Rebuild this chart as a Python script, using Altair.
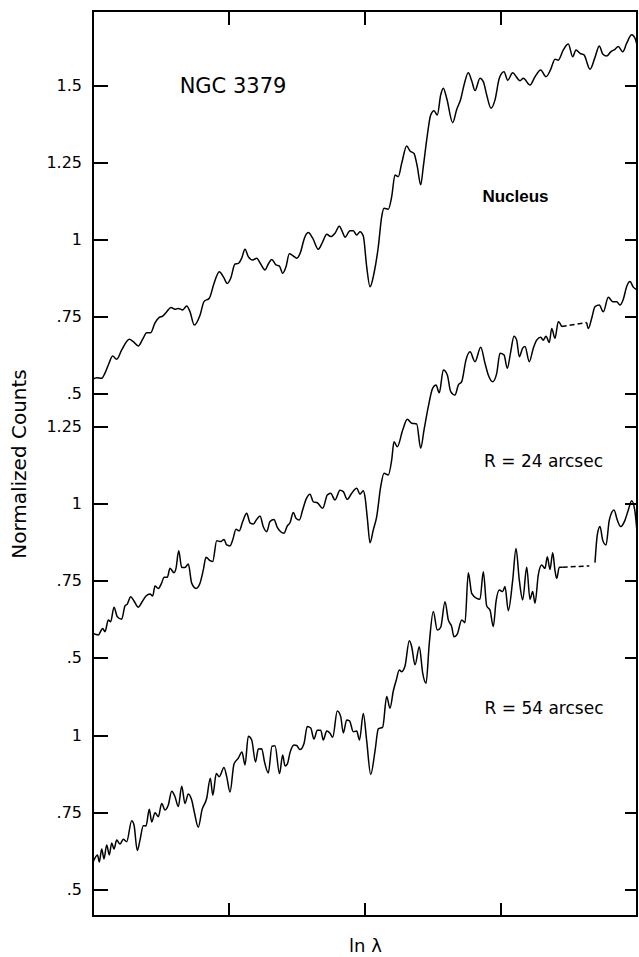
import altair as alt
import pandas as pd

# ---- spectra (x in channel units across the frame, v = normalized counts) ----
NUC_X = [0, 3.7, 8.7, 12, 15.3, 19.7, 23.7, 28.7, 36.3, 40.3, 45.3, 49.7, 53.7, 57.7, 62, 66.3, 69.7, 73.7, 78, 82,
         85.3, 89.7, 93.7, 97, 101.3, 107, 111, 116.3, 121, 126.3, 130.3, 134.3, 137.7, 142, 145.3, 148.7, 152, 155.3,
         159.7, 163.7, 167.7, 172, 175.3, 178.7, 183, 186.3, 189.7, 193, 196.3, 200.3, 203.7, 207.7, 211, 215.3, 219.7,
         225.3, 229.7, 233.7, 237.7, 242, 246.3, 249.7, 252, 257, 260.3, 263.7, 267, 270.3, 273.7, 277, 281, 285.3,
         288.7, 291, 295.3, 298.7, 302, 305.3, 308.7, 313.7, 317, 321, 324.3, 327.7, 330.3, 333.7, 337.7, 341, 344.3,
         347.7, 350.3, 353.7, 359.7, 363.7, 367.7, 371, 375.3, 378.7, 382, 387, 390.3, 393.7, 398, 402, 406.3, 411,
         414.7, 419.7, 423.7, 427, 430.3, 437, 442, 447.7, 453, 457.7, 462, 465.3, 470.3, 475.3, 479.7, 483, 487, 491,
         497, 502, 506.3, 509.7, 513.7, 517.7, 522, 525.3, 529.7, 533.7, 538.7, 542, 544]
NUC_V = [0.548, 0.553, 0.551, 0.568, 0.594, 0.623, 0.613, 0.643, 0.678, 0.670, 0.656, 0.678, 0.699, 0.699, 0.731,
         0.749, 0.753, 0.767, 0.781, 0.775, 0.778, 0.773, 0.786, 0.767, 0.724, 0.756, 0.800, 0.811, 0.859, 0.897,
         0.881, 0.859, 0.876, 0.922, 0.924, 0.941, 0.970, 0.946, 0.935, 0.941, 0.922, 0.903, 0.922, 0.937, 0.919,
         0.916, 0.892, 0.913, 0.955, 0.948, 0.941, 0.962, 1.002, 1.024, 1.006, 0.970, 0.994, 1.019, 1.011, 1.022,
         1.045, 1.024, 1.009, 1.030, 1.030, 1.016, 1.027, 1.013, 0.913, 0.848, 0.892, 0.978, 1.076, 1.103, 1.100,
         1.141, 1.211, 1.206, 1.249, 1.305, 1.289, 1.281, 1.238, 1.179, 1.238, 1.325, 1.406, 1.420, 1.406, 1.471,
         1.493, 1.460, 1.381, 1.424, 1.457, 1.503, 1.543, 1.517, 1.485, 1.525, 1.514, 1.471, 1.428, 1.455, 1.525,
         1.546, 1.519, 1.543, 1.528, 1.517, 1.525, 1.503, 1.530, 1.552, 1.530, 1.554, 1.587, 1.584, 1.617, 1.636,
         1.595, 1.617, 1.606, 1.601, 1.554, 1.593, 1.630, 1.604, 1.597, 1.611, 1.619, 1.628, 1.611, 1.639, 1.666,
         1.655, 1.633]

R24A_X = [0, 5.3, 9.7, 12, 15.3, 17.7, 21, 24.3, 28.7, 32, 34.3, 37.7, 41, 45.3, 48.7, 53, 57, 59.7, 62, 65.3, 68.7,
          71, 74.3, 77, 81, 83, 85.7, 88.7, 92, 95.3, 98.7, 103, 107, 110.3, 113, 117, 119.7, 123.7, 127.7, 131,
          133.7, 137, 139.7, 143, 146.3, 149.7, 153.7, 157, 160.3, 163.7, 167, 170.3, 173.7, 177, 181, 184.3, 187.7,
          191, 194.3, 197, 200.3, 203, 206.3, 209.7, 213, 217, 220.3, 224.3, 229.7, 234.3, 237.7, 242, 247, 250.3,
          254.3, 258.7, 263.7, 267, 270.3, 272, 274.5, 277, 280.3, 283.7, 287.7, 291, 295.3, 298.7, 301, 304.3,
          309.7, 314.3, 318.7, 323.7, 327.7, 331, 335.3, 339.7, 343, 346.3, 350.3, 354.3, 357.7, 362, 365.3, 368.7,
          373, 377, 382, 387.7, 392, 395.3, 399.7, 403.7, 407, 411, 414.3, 417.7, 421, 423.7, 426.3, 429.7, 432,
          436.3, 440.3, 443.7, 447.7, 450.3, 453, 456.3, 458.7, 462, 465.3, 468.7]
R24A_V = [0.580, 0.575, 0.596, 0.585, 0.623, 0.618, 0.665, 0.634, 0.626, 0.669, 0.675, 0.699, 0.685, 0.665, 0.680,
          0.701, 0.708, 0.701, 0.734, 0.726, 0.744, 0.762, 0.762, 0.791, 0.777, 0.791, 0.848, 0.794, 0.794, 0.805,
          0.743, 0.726, 0.743, 0.786, 0.827, 0.816, 0.813, 0.881, 0.878, 0.885, 0.867, 0.864, 0.883, 0.918, 0.913,
          0.943, 0.970, 0.939, 0.935, 0.950, 0.961, 0.926, 0.910, 0.943, 0.950, 0.924, 0.910, 0.905, 0.929, 0.939,
          0.972, 0.954, 0.948, 0.981, 1.015, 1.032, 1.007, 1.004, 0.986, 1.029, 1.035, 1.013, 1.045, 1.040, 1.015,
          1.035, 1.051, 1.032, 1.043, 1.023, 0.948, 0.874, 0.916, 0.959, 1.056, 1.100, 1.094, 1.143, 1.202, 1.186,
          1.240, 1.275, 1.262, 1.260, 1.181, 1.240, 1.316, 1.376, 1.386, 1.361, 1.435, 1.419, 1.365, 1.354, 1.386,
          1.397, 1.468, 1.494, 1.462, 1.509, 1.457, 1.419, 1.397, 1.424, 1.489, 1.484, 1.441, 1.494, 1.545, 1.532,
          1.478, 1.506, 1.511, 1.462, 1.506, 1.532, 1.541, 1.532, 1.545, 1.524, 1.570, 1.538, 1.592, 1.576]
R24D_X = [468.7, 493.7]
R24D_V = [1.576, 1.589]
R24B_X = [493.7, 495.3, 498.7, 502, 506.3, 510.3, 515.3, 519.7, 523.7, 527, 530.3, 533.7, 537, 540.3, 544]
R24B_V = [1.589, 1.570, 1.603, 1.641, 1.646, 1.624, 1.671, 1.657, 1.657, 1.646, 1.665, 1.706, 1.722, 1.704, 1.695]

R54A_X = [0, 4.5, 6.3, 8.7, 11, 13.7, 16.3, 18.7, 21, 23.7, 27, 30.3, 33.7, 38.7, 41, 44.3, 47, 50.3, 53, 56.3, 58.7,
          62, 65.3, 68.7, 72, 75.3, 78.7, 82, 85.3, 88.7, 92, 95.3, 98.7, 101.5, 105.3, 109, 113.7, 117.3, 119.8,
          123.3, 126.3, 131, 133.7, 137, 141, 145.3, 149, 152, 155.3, 158.7, 162.5, 165.3, 168.7, 171.5, 175.3, 179,
          182, 186.5, 189.7, 192, 194.3, 197, 201, 203.7, 207, 211, 214.3, 217.7, 221, 224.3, 227.7, 230.3, 233.7,
          237, 239.7, 244.3, 247.7, 250.3, 253.7, 256.5, 260.3, 263.7, 266.5, 270.3, 273.7, 277.7, 282, 285.3,
          289.7, 293.7, 297, 300.3, 303.3, 306.3, 308.7, 312, 316.3, 318.7, 322, 326.3, 329.7, 333, 336.3, 340.3,
          344.3, 347.7, 352, 355.3, 358.7, 361, 364.3, 368.7, 372, 375.3, 378.7, 383.7, 387, 390.3, 393.7, 397,
          400.3, 403, 406.3, 409.7, 412, 415.3, 419.7, 423, 426.3, 429.7, 433.7, 437, 439.7, 442, 445.3, 448.7, 452,
          454.3, 457, 459.7, 462, 463.7, 466.3, 469.7]
R54A_V = [0.590, 0.614, 0.591, 0.633, 0.601, 0.646, 0.614, 0.653, 0.633, 0.662, 0.649, 0.665, 0.657, 0.725, 0.711,
          0.628, 0.662, 0.709, 0.708, 0.762, 0.721, 0.751, 0.738, 0.781, 0.760, 0.776, 0.821, 0.803, 0.771, 0.837,
          0.781, 0.812, 0.792, 0.750, 0.704, 0.760, 0.798, 0.863, 0.808, 0.878, 0.868, 0.898, 0.868, 0.818, 0.909,
          0.928, 0.948, 0.906, 0.999, 0.987, 0.916, 0.958, 0.959, 0.916, 0.880, 0.967, 0.968, 0.878, 0.938, 0.903,
          0.909, 0.946, 0.971, 0.969, 0.956, 0.976, 1.031, 1.026, 0.990, 1.019, 1.019, 0.987, 1.016, 1.009, 0.996,
          1.081, 1.063, 1.010, 1.052, 1.049, 1.014, 1.016, 0.987, 1.073, 0.984, 0.875, 0.951, 1.023, 1.029, 1.128,
          1.090, 1.146, 1.182, 1.214, 1.209, 1.227, 1.309, 1.290, 1.231, 1.290, 1.204, 1.171, 1.301, 1.404, 1.344,
          1.353, 1.436, 1.377, 1.355, 1.322, 1.331, 1.377, 1.368, 1.530, 1.463, 1.447, 1.444, 1.533, 1.422, 1.409,
          1.355, 1.436, 1.474, 1.469, 1.485, 1.407, 1.506, 1.609, 1.506, 1.442, 1.548, 1.444, 1.469, 1.431, 1.523,
          1.555, 1.544, 1.582, 1.541, 1.595, 1.537, 1.512, 1.548, 1.548]
R54D_X = [469.7, 496.3]
R54D_V = [1.548, 1.552]
R54B_X = [502, 504.3, 507, 509.7, 513, 516.3, 521, 524.3, 527.7, 532, 535.3, 538.7, 542, 544]
R54B_V = [1.563, 1.653, 1.680, 1.636, 1.620, 1.701, 1.734, 1.701, 1.680, 1.701, 1.734, 1.764, 1.728, 1.663]

# vertical offsets of the stacked spectra (in normalized-count units)
OFFSETS = {"nucleus": 0.0, "r24": 0.8571, "r54": 1.6104}

# y tick values and labels of each stacked panel
TICKS_NUC = [0.5, 0.75, 1.0, 1.25, 1.5]
TICKS_R24 = [0.5, 0.75, 1.0, 1.25]
TICKS_R54 = [0.5, 0.75, 1.0]
LABELS = {0.5: ".5", 0.75: ".75", 1.0: "1", 1.25: "1.25", 1.5: "1.5"}
X_TICKS = [136, 272, 408]

# annotations
ANNOT = [
    ("NGC 3379", "nucleus", 140, 1.497, "title"),
    ("Nucleus", "nucleus", 422.5, 1.140, "bold"),
    ("R = 24 arcsec", "r24", 450.5, 1.136, "plain"),
    ("R = 54 arcsec", "r54", 451, 1.088, "plain"),
]

X_DOMAIN = [0, 544]
Y_DOMAIN = [-1.1948, 1.7435]

# ---- build tables ----
rows = []


def add(name, xs, vs, seg, style):
    assert len(xs) == len(vs), (name, seg, len(xs), len(vs))
    for x, v in zip(xs, vs):
        rows.append(dict(spectrum=name, seg=f"{name}-{seg}", style=style, x=x, v=v))


add("nucleus", NUC_X, NUC_V, "a", "solid")
add("r24", R24A_X, R24A_V, "a", "solid")
add("r24", R24D_X, R24D_V, "d", "dash")
add("r24", R24B_X, R24B_V, "b", "solid")
add("r54", R54A_X, R54A_V, "a", "solid")
add("r54", R54D_X, R54D_V, "d", "dash")
add("r54", R54B_X, R54B_V, "b", "solid")
lines = pd.DataFrame(rows)
lines["g"] = lines["v"] - lines["spectrum"].map(OFFSETS)

trows = []
for name, vals in (("nucleus", TICKS_NUC), ("r24", TICKS_R24), ("r54", TICKS_R54)):
    for t in vals:
        trows.append(dict(spectrum=name, v=t, label=LABELS[t], g=t - OFFSETS[name],
                          right=not (name == "r54" and t == 1.0)))
ticks = pd.DataFrame(trows)
xticks = pd.DataFrame({"x": X_TICKS})

annot = pd.DataFrame(ANNOT, columns=["text", "spectrum", "x", "v", "kind"])
annot["g"] = annot["v"] - annot["spectrum"].map(OFFSETS)

XS = alt.Scale(domain=X_DOMAIN, nice=False, zero=False)
YS = alt.Scale(domain=Y_DOMAIN, nice=False, zero=False)
W, H = 544, 905
INK = "#000000"

XAX = alt.Axis(title="ln λ", labels=False, ticks=False, domain=False, grid=False,
               titleFont="DejaVu Sans", titleFontSize=18, titleFontWeight="normal",
               titleColor=INK, titlePadding=21)
YAX = alt.Axis(title="Normalized Counts", labels=False, ticks=False, domain=False, grid=False,
               titleFont="DejaVu Sans", titleFontSize=20, titleFontWeight="normal",
               titleColor=INK, titleX=-74, titleY=H / 2, titleBaseline="middle")


def X(field="x:Q"):
    return alt.X(field, scale=XS, axis=XAX, title="ln λ")


def Y(field="g:Q"):
    return alt.Y(field, scale=YS, axis=YAX, title="Normalized Counts")


solid = alt.Chart(lines[lines["style"] == "solid"]).mark_line(
    color=INK, strokeWidth=1.5, interpolate="monotone"
).encode(x=X(), y=Y(), detail="seg:N")

dashed = alt.Chart(lines[lines["style"] == "dash"]).mark_line(
    color=INK, strokeWidth=1.5, strokeDash=[5, 3]
).encode(x=X(), y=Y(), detail="seg:N")

left_ticks = alt.Chart(ticks).mark_rule(color=INK, strokeWidth=2).encode(
    y=Y(), x=alt.value(0), x2=alt.value(15))
right_ticks = alt.Chart(ticks[ticks["right"]]).mark_rule(color=INK, strokeWidth=2).encode(
    y=Y(), x=alt.value(W - 12), x2=alt.value(W))
tick_labels = alt.Chart(ticks).mark_text(
    align="right", baseline="middle", dx=-11, font="DejaVu Sans", fontSize=16, color=INK
).encode(y=Y(), x=alt.value(0), text="label:N")

top_xticks = alt.Chart(xticks).mark_rule(color=INK, strokeWidth=2).encode(
    x=X(), y=alt.value(0), y2=alt.value(14))
bot_xticks = alt.Chart(xticks).mark_rule(color=INK, strokeWidth=2).encode(
    x=X(), y=alt.value(H - 13), y2=alt.value(H))


def annot_layer(kind, font, size, weight):
    return alt.Chart(annot[annot["kind"] == kind]).mark_text(
        align="center", baseline="middle", font=font, fontSize=size, fontWeight=weight, color=INK
    ).encode(x=X(), y=Y(), text="text:N")


chart = alt.layer(
    solid, dashed, left_ticks, right_ticks, tick_labels, top_xticks, bot_xticks,
    annot_layer("title", "DejaVu Sans", 21, "normal"),
    annot_layer("bold", "Liberation Sans", 17, "bold"),
    annot_layer("plain", "DejaVu Sans", 17, "normal"),
).properties(
    width=W, height=H,
    padding={"left": 93, "top": 11, "right": 2, "bottom": 41},
    autosize=alt.AutoSizeParams(type="none"),
    background="white",
).configure_view(stroke=INK, strokeWidth=2)

chart.save("out.html", embed_options={"renderer": "svg", "actions": False})
